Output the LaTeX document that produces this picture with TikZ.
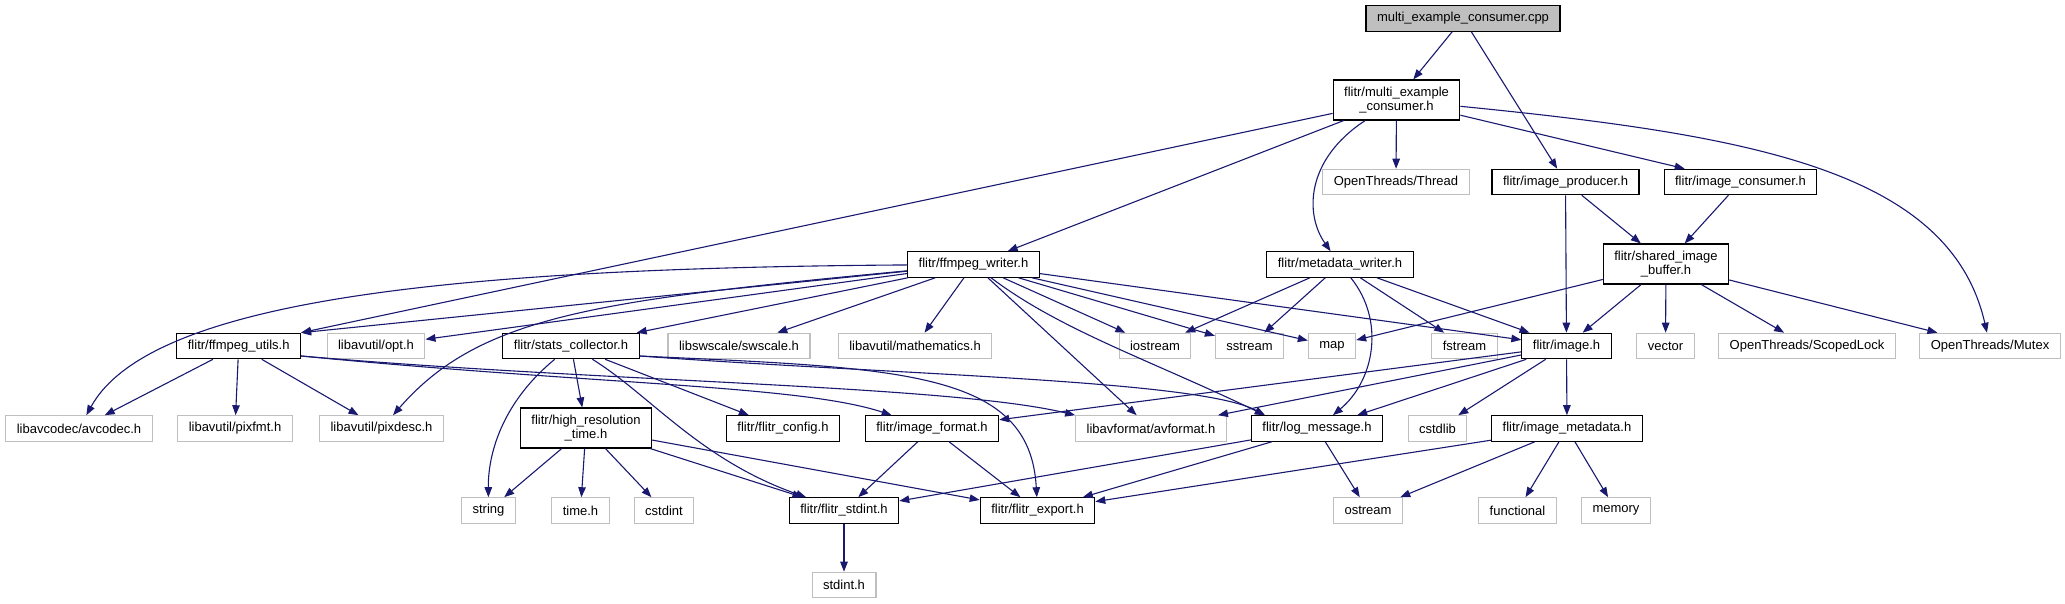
\documentclass[tikz,border=0pt]{standalone}
\usepackage{fontspec}
\setmainfont{Liberation Sans}
\usetikzlibrary{arrows.meta}
\definecolor{edgeblue}{HTML}{191970}
\definecolor{boxgray}{HTML}{BFBFBF}
\tikzstyle{arrow} = [line width=1.1pt, draw=edgeblue, -{Triangle[length=10pt,width=7.5pt]}]
\tikzstyle{hdr} = [draw=black, line width=1.1pt, inner xsep=11pt, inner ysep=2pt, minimum height=25.5pt, font=\fontsize{13}{14}\selectfont, align=center]
\tikzstyle{syshdr} = [hdr, draw=boxgray]
\tikzstyle{srcfile} = [hdr, fill=boxgray]
\tikzstyle{twoline} = [minimum height=40pt]

\begin{document}
\begin{tikzpicture}[x=1pt, y=-1pt]
    \useasboundingbox (0,0) rectangle (2065,604);

    \node[srcfile] (root) at (1463,18.5) {multi\_example\_consumer.cpp};
    \node[hdr,twoline] (mec) at (1396.5,100) {flitr/multi\_example\\\_consumer.h};

    \node[syshdr] (thread) at (1396,182) {OpenThreads/Thread};
    \node[hdr] (producer) at (1565.5,182) {flitr/image\_producer.h};
    \node[hdr] (consumer) at (1740.5,182) {flitr/image\_consumer.h};

    \node[hdr] (fwriter) at (973.5,264.5) {flitr/ffmpeg\_writer.h};
    \node[hdr] (mwriter) at (1340,264.5) {flitr/metadata\_writer.h};
    \node[hdr,twoline] (sib) at (1666,264) {flitr/shared\_image\\\_buffer.h};

    \node[hdr] (futils) at (238.7,346) {flitr/ffmpeg\_utils.h};
    \node[syshdr] (opt) at (376,346) {libavutil/opt.h};
    \node[hdr] (stats) at (571,346) {flitr/stats\_collector.h};
    \node[syshdr] (swscale) at (739,346) {libswscale/swscale.h};
    \node[syshdr] (math) at (915,346) {libavutil/mathematics.h};
    \node[syshdr] (iostream) at (1155,346) {iostream};
    \node[syshdr] (sstream) at (1249.5,346) {sstream};
    \node[syshdr] (map) at (1332,346) {map};
    \node[syshdr] (fstream) at (1464.5,346) {fstream};
    \node[hdr] (image) at (1566.5,346) {flitr/image.h};
    \node[syshdr] (vector) at (1665.5,346) {vector};
    \node[syshdr] (scopedlock) at (1807,346) {OpenThreads/ScopedLock};
    \node[syshdr] (mutex) at (1990,346) {OpenThreads/Mutex};

    \node[syshdr] (avcodec) at (79,428.5) {libavcodec/avcodec.h};
    \node[syshdr] (pixfmt) at (235,428.5) {libavutil/pixfmt.h};
    \node[syshdr] (pixdesc) at (381.5,428.5) {libavutil/pixdesc.h};
    \node[hdr,twoline] (hrtime) at (586,428) {flitr/high\_resolution\\\_time.h};
    \node[hdr] (config) at (783,428.5) {flitr/flitr\_config.h};
    \node[hdr] (imgformat) at (932,428.5) {flitr/image\_format.h};
    \node[syshdr] (avformat) at (1151,428.5) {libavformat/avformat.h};
    \node[hdr] (logmsg) at (1317,428.5) {flitr/log\_message.h};
    \node[syshdr] (cstdlib) at (1437.5,428.5) {cstdlib};
    \node[hdr] (imgmeta) at (1567,428.5) {flitr/image\_metadata.h};

    \node[syshdr] (string) at (488.5,510.5) {string};
    \node[syshdr] (timeh) at (580.5,510.5) {time.h};
    \node[syshdr] (cstdint) at (664,510.5) {cstdint};
    \node[hdr] (stdintf) at (844,510.5) {flitr/flitr\_stdint.h};
    \node[hdr] (export) at (1037.5,510.5) {flitr/flitr\_export.h};
    \node[syshdr] (ostream) at (1368,510.5) {ostream};
    \node[syshdr] (functional) at (1517.5,510.5) {functional};
    \node[syshdr] (memory) at (1616,510.5) {memory};

    \node[syshdr] (stdinth) at (844,585) {stdint.h};

    % Edges
    \draw[arrow] (root) -- (mec);
    \draw[arrow] (root) -- (producer);

    \draw[arrow] (mec) -- (futils.north east);
    \draw[arrow] (mec) -- (fwriter);
    \draw[arrow] (mec) .. controls (1305,160) and (1305,215) .. (mwriter);
    \draw[arrow] (mec) -- (thread);
    \draw[arrow] (mec) -- (consumer);
    \draw[arrow] (mec) .. controls (1750,135) and (1950,170) .. (mutex);

    \draw[arrow] (producer) -- (sib);
    \draw[arrow] (producer) -- (image);
    \draw[arrow] (consumer) -- (sib);

    \draw[arrow] (sib) -- (map);
    \draw[arrow] (sib) -- (image);
    \draw[arrow] (sib) -- (vector);
    \draw[arrow] (sib) -- (scopedlock);
    \draw[arrow] (sib) -- (mutex);

    \draw[arrow] (fwriter) .. controls (450,268) and (150,300) .. (avcodec);
    \draw[arrow] (fwriter) -- (futils.north east);
    \draw[arrow] (fwriter) -- (opt);
    \draw[arrow] (fwriter) .. controls (600,300) and (480,315) .. (pixdesc);
    \draw[arrow] (fwriter) -- (stats);
    \draw[arrow] (fwriter) -- (swscale);
    \draw[arrow] (fwriter) -- (math);
    \draw[arrow] (fwriter) -- (avformat);
    \draw[arrow] (fwriter) .. controls (1060,330) and (1150,360) .. ([xshift=14pt]logmsg.north west);
    \draw[arrow] (fwriter) -- (iostream);
    \draw[arrow] (fwriter) -- (sstream);
    \draw[arrow] (fwriter) -- (map);
    \draw[arrow] (fwriter) -- (image);

    \draw[arrow] (mwriter) -- (iostream);
    \draw[arrow] (mwriter) -- (sstream);
    \draw[arrow] (mwriter) .. controls (1385,320) and (1375,380) .. (logmsg);
    \draw[arrow] (mwriter) -- (fstream);
    \draw[arrow] (mwriter) -- (image);

    \draw[arrow] (futils) -- (avcodec);
    \draw[arrow] (futils) -- (pixfmt);
    \draw[arrow] (futils) -- (pixdesc);
    \draw[arrow] ([yshift=-10pt]futils.east) .. controls (600,385) and (800,385) .. (imgformat);
    \draw[arrow] ([yshift=-10pt]futils.east) .. controls (600,382) and (950,385) .. (avformat.north west);

    \draw[arrow] (stats) .. controls (505,400) and (488,450) .. (string);
    \draw[arrow] (stats) -- (hrtime);
    \draw[arrow] (stats) .. controls (650,395) and (700,460) .. (stdintf);
    \draw[arrow] (stats) -- (config);
    \draw[arrow] ([yshift=-10pt]stats.east) .. controls (900,368) and (1030,370) .. (export);
    \draw[arrow] ([yshift=-10pt]stats.east) .. controls (900,375) and (1200,380) .. ([xshift=14pt]logmsg.north west);

    \draw[arrow] (hrtime) -- (string);
    \draw[arrow] (hrtime) -- (timeh);
    \draw[arrow] (hrtime) -- (cstdint);
    \draw[arrow] (hrtime) -- (stdintf);
    \draw[arrow] (hrtime) -- (export);

    \draw[arrow] (imgformat) -- (stdintf);
    \draw[arrow] (imgformat) -- (export);

    \draw[arrow] (logmsg) -- (stdintf);
    \draw[arrow] (logmsg) -- (export);
    \draw[arrow] (logmsg) -- (ostream);

    \draw[arrow] (image) -- (imgformat);
    \draw[arrow] (image) -- (avformat);
    \draw[arrow] (image) -- (logmsg);
    \draw[arrow] (image) -- (cstdlib);
    \draw[arrow] (image) -- (imgmeta);

    \draw[arrow] (imgmeta) -- (export);
    \draw[arrow] (imgmeta) -- (ostream);
    \draw[arrow] (imgmeta) -- (functional);
    \draw[arrow] (imgmeta) -- (memory);

    \draw[arrow] (stdintf) -- (stdinth);
\end{tikzpicture}
\end{document}
